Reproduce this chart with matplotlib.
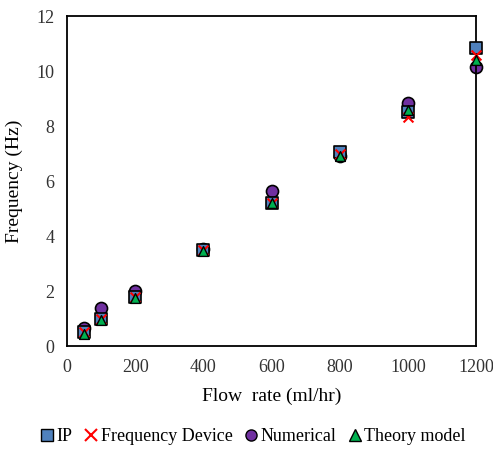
import matplotlib.pyplot as plt
from matplotlib.lines import Line2D

plt.rcParams['font.family'] = ['Liberation Serif', 'DejaVu Serif']

flow = [50, 100, 200, 400, 600, 800, 1000, 1200]
ip = [0.5, 1.0, 1.8, 3.5, 5.2, 7.05, 8.5, 10.85]
freq_device = [0.5, 1.0, 1.8, 3.5, 5.2, 7.0, 8.35, 10.6]
numerical = [0.65, 1.4, 2.0, 3.55, 5.65, 6.9, 8.85, 10.15]
theory = [0.45, 0.95, 1.75, 3.45, 5.2, 6.9, 8.6, 10.4]

fig = plt.figure(figsize=(4.93, 4.49), dpi=100)
ax = fig.add_axes([0.136, 0.229, 0.830, 0.735])

ax.scatter(flow, numerical, marker='o', s=75, color='#7030A0', edgecolors='black', linewidths=1.2, zorder=2, clip_on=False)
ax.scatter(flow, ip, marker='s', s=70, color='#4F81BD', edgecolors='black', linewidths=1.2, zorder=3, clip_on=False)
ax.scatter(flow, freq_device, marker='x', s=50, color='#FF0000', linewidths=1.5, zorder=4, clip_on=False)
ax.scatter(flow, theory, marker='^', s=50, color='#00B050', edgecolors='black', linewidths=1.0, zorder=5, clip_on=False)

ax.set_xlim(0, 1200)
ax.set_ylim(0, 12)
ax.set_xticks(range(0, 1201, 200))
ax.set_yticks(range(0, 13, 2))
ax.tick_params(length=0, labelsize=13, pad=9, colors='#333333')
for s in ax.spines.values():
    s.set_linewidth(1.3)
ax.set_xlabel('Flow  rate (ml/hr)', fontsize=14, labelpad=9)
ax.set_ylabel('Frequency (Hz)', fontsize=14, labelpad=10)

handles = [
    Line2D([], [], ls='', marker='s', ms=8, mfc='#4F81BD', mec='black'),
    Line2D([], [], ls='', marker='x', ms=8, color='#FF0000', mew=1.5),
    Line2D([], [], ls='', marker='o', ms=8, mfc='#7030A0', mec='black'),
    Line2D([], [], ls='', marker='^', ms=8, mfc='#00B050', mec='black'),
]
labels = ['IP', 'Frequency Device', 'Numerical', 'Theory model']
fig.legend(handles, labels, loc='center', bbox_to_anchor=(0.51, 0.027), ncol=4, frameon=False,
           fontsize=13, handletextpad=0.0, columnspacing=0.45, handlelength=1.1, borderpad=0)

fig.savefig('out.png', dpi=100)
